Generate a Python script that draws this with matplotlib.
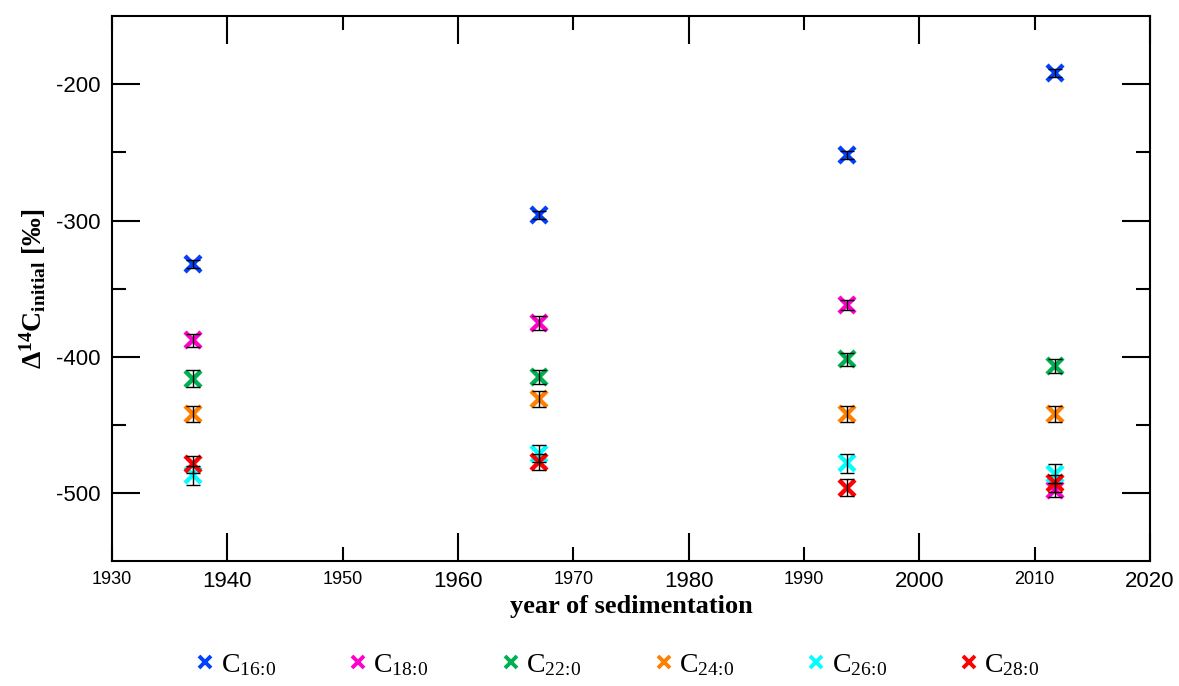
import numpy as np
import matplotlib.pyplot as plt
from matplotlib.lines import Line2D

# data
years = [1937.0, 1967.0, 1993.7, 2011.8]

c16 = [-332, -296, -252, -192]
c18 = [-388, -375, -362, -498]
c22 = [-416, -415, -402, -407]
c24 = [-442, -431, -442, -442]
c26 = [-487, -471, -478, -486]
c28 = [-479, -477, -496, -493]

c16_err = [3, 3, 3, 3]
c18_err = [5, 5, 4, 5]
c22_err = [6, 5, 5, 5]
c24_err = [6, 6, 6, 6]
c26_err = [7, 6, 7, 7]
c28_err = [6, 6, 6, 6]

labels = [r'$\mathrm{C_{16\!:\!0}}$', r'$\mathrm{C_{18\!:\!0}}$', r'$\mathrm{C_{22\!:\!0}}$',
          r'$\mathrm{C_{24\!:\!0}}$', r'$\mathrm{C_{26\!:\!0}}$', r'$\mathrm{C_{28\!:\!0}}$']
colors = ['#0040ff', '#ff00cc', '#00b050', '#ff8000', '#00ffff', '#ff0000']
series = [c16, c18, c22, c24, c26, c28]
errors = [c16_err, c18_err, c22_err, c24_err, c26_err, c28_err]

# serif maths text, like the Cambria labels in the original
plt.rcParams['mathtext.fontset'] = 'custom'
plt.rcParams['mathtext.rm'] = 'Liberation Serif'
plt.rcParams['mathtext.it'] = 'Liberation Serif:italic'
plt.rcParams['mathtext.bf'] = 'Liberation Serif:bold'

fig = plt.figure(figsize=(11.79, 6.86), dpi=100)
ax = fig.add_axes([0.095, 0.182, 0.8804, 0.7945])

for vals, errs, col in zip(series, errors, colors):
    ax.plot(years, vals, linestyle='none', marker='x', markersize=11,
            markeredgewidth=3.2, color=col, zorder=3)
    ax.errorbar(years, vals, yerr=errs, fmt='none', ecolor='black',
                elinewidth=1.0, capsize=5, capthick=1.0, zorder=4)

ax.set_xlim(1930, 2020)
ax.set_ylim(-550, -150)

# axis ticks: big labels on majors, small labels on minors
ax.set_xticks([1940, 1960, 1980, 2000, 2020])
ax.set_xticks([1930, 1950, 1970, 1990, 2010], minor=True)
ax.set_xticklabels(['1940', '1960', '1980', '2000', '2020'], fontsize=16, family='Liberation Sans')
ax.set_xticklabels(['1930', '1950', '1970', '1990', '2010'], minor=True, fontsize=13, family='Liberation Sans')
ax.set_yticks([-500, -400, -300, -200])
ax.set_yticks([-450, -350, -250], minor=True)
ax.set_yticklabels(['-500', '-400', '-300', '-200'], fontsize=16, family='Liberation Sans')

ax.tick_params(which='both', direction='in', top=True, right=True, width=1.5)
ax.tick_params(which='major', length=20)
ax.tick_params(which='minor', length=10)
ax.tick_params(axis='x', which='both', pad=7)
ax.tick_params(axis='y', which='both', pad=8)
for sp in ax.spines.values():
    sp.set_linewidth(1.5)

ax.set_xlabel('year of sedimentation', fontsize=19, fontweight='bold',
              family='Liberation Serif', labelpad=2)
ax.set_ylabel(r'$\mathbf{\Delta^{14}C_{initial}}$ [‰]', fontsize=20, fontweight='bold',
              family='Liberation Serif', labelpad=6)

handles = [Line2D([], [], linestyle='none', marker='x', markersize=9,
                  markeredgewidth=2.8, color=c) for c in colors]
fig.legend(handles, labels, loc='center', bbox_to_anchor=(0.524, 0.032), ncol=6,
           frameon=False, fontsize=20, handlelength=0.7, handletextpad=0.2,
           columnspacing=2.6)

fig.savefig('out.png', dpi=100)
